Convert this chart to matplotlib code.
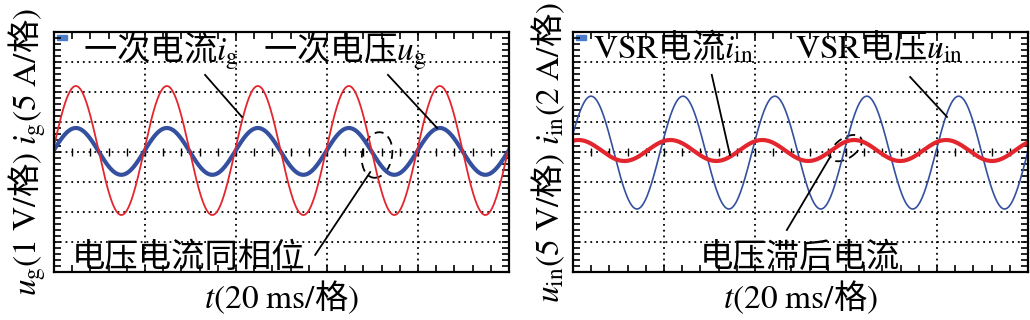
import matplotlib
matplotlib.use("Agg")
import matplotlib.pyplot as plt
import numpy as np
from matplotlib.patches import Ellipse, Rectangle
from matplotlib.transforms import ScaledTranslation

plt.rcParams['font.family'] = ['Noto Sans CJK SC', 'DejaVu Sans']
plt.rcParams['mathtext.fontset'] = 'stix'

# waveform parameters (time in ms, amplitude in divisions)
t_span = 100.0
left_red_amp, left_red_peak, left_red_offset = 2.15, 4.8, 0.05       # i_g
left_blue_amp, left_blue_peak, left_blue_offset = 0.78, 4.8, 0.02    # u_g
left_period = 20.0
right_blue_amp, right_blue_peak, right_blue_offset = 1.88, 3.96, -0.02  # u_in
right_red_amp, right_red_peak, right_red_offset = 0.35, 1.2, 0.05       # i_in
right_period = 20.2

left_ylabel = (r'$u_{\mathrm{g}}\mathrm{(1\ V/}$格$\mathrm{)}\ i_{\mathrm{g}}'
               r'\mathrm{(5\ A/}$格$\mathrm{)}$')
right_ylabel = (r'$u_{\mathrm{in}}\mathrm{(5\ V/}$格$\mathrm{)}\ i_{\mathrm{in}}'
                r'\mathrm{(2\ A/}$格$\mathrm{)}$')
xlabel = r'$t\mathrm{(20\ ms/}$格$\mathrm{)}$'

RED = '#e3262e'
BLUE = '#34509f'


def wave(t, amp, peak, period, offset):
    return offset + amp * np.cos(2 * np.pi * (t - peak) / period)


def scope_axes(fig, rect):
    ax = fig.add_axes(rect)
    ax.set_xlim(0, t_span)
    ax.set_ylim(-4, 4)
    ax.set_xticks(np.arange(0, t_span + 1, 20))
    ax.set_xticks(np.arange(0, t_span + 1, 4), minor=True)
    ax.set_yticks(np.arange(-4, 5, 1))
    ax.set_yticks(np.arange(-4, 4.01, 0.2), minor=True)
    ax.tick_params(which='both', direction='in', top=True, right=True,
                   labelbottom=False, labelleft=False, width=1.2, length=5)
    ax.grid(True, which='major', color='black', linestyle=(0, (1, 2.2)), linewidth=1.3)
    for s in ax.spines.values():
        s.set_linewidth(1.6)
    # center line cross ticks
    tc = np.arange(4, t_span, 4)
    ax.plot(tc, np.zeros_like(tc), '|', color='black', ms=6, mew=1.0)
    ax.add_patch(Rectangle((0.007, 0.967), 0.021, 0.02, transform=ax.transAxes,
                           color='#4a7cc9', clip_on=False))
    return ax


def ellipse(ax, fig, x, y, w, h, angle):
    tr = fig.dpi_scale_trans + ScaledTranslation(x, y, ax.transData)
    ax.add_patch(Ellipse((0, 0), w, h, angle=angle, transform=tr, fill=False,
                         edgecolor='black', linestyle=(0, (5, 3)), linewidth=1.3))


fig = plt.figure(figsize=(10.3, 3.2), dpi=100)
t = np.linspace(0, t_span, 2000)

# left panel
ax1 = scope_axes(fig, [54 / 1030, 48 / 320, 455 / 1030, 240 / 320])
ax1.plot(t, wave(t, left_blue_amp, left_blue_peak, left_period, left_blue_offset),
         color=BLUE, lw=3.0)
ax1.plot(t, wave(t, left_red_amp, left_red_peak, left_period, left_red_offset),
         color=RED, lw=1.3)
ax1.text(6.4, 3.05, r'一次电流$i_{\mathrm{g}}$', fontsize=24, va='baseline')
ax1.text(45.9, 3.05, r'一次电压$u_{\mathrm{g}}$', fontsize=24, va='baseline')
ax1.text(4.0, -3.82, '电压电流同相位', fontsize=24, va='baseline')
ax1.plot([33.2, 41.3], [2.57, 1.17], color='black', lw=1.3)
ax1.plot([73.4, 84.2], [2.57, 0.8], color='black', lw=1.3)
ax1.plot([69.5, 57.4], [-0.67, -3.43], color='black', lw=1.3)
ellipse(ax1, fig, 71.0, -0.1, 0.30, 0.46, -10)
ax1.set_xlabel(xlabel, fontsize=24, labelpad=5)
ax1.set_ylabel(left_ylabel, fontsize=24, labelpad=4)

# right panel
ax2 = scope_axes(fig, [573 / 1030, 48 / 320, 455 / 1030, 240 / 320])
ax2.plot(t, wave(t, right_blue_amp, right_blue_peak, right_period, right_blue_offset),
         color=BLUE, lw=1.2)
ax2.plot(t, wave(t, right_red_amp, right_red_peak, right_period, right_red_offset),
         color=RED, lw=3.0)
ax2.text(4.4, 3.13, r'$\mathrm{VSR}$电流$i_{\mathrm{in}}$', fontsize=24, va='baseline')
ax2.text(48.8, 3.13, r'$\mathrm{VSR}$电压$u_{\mathrm{in}}$', fontsize=24, va='baseline')
ax2.text(27.9, -3.82, '电压滞后电流', fontsize=24, va='baseline')
ax2.plot([30.5, 34.5], [2.57, -0.1], color='black', lw=1.3)
ax2.plot([74.1, 82.2], [2.5, 1.17], color='black', lw=1.3)
ax2.plot([56.5, 47.0], [-0.17, -2.6], color='black', lw=1.3)
ellipse(ax2, fig, 60.0, 0.13, 0.36, 0.20, 35)
ax2.set_xlabel(xlabel, fontsize=24, labelpad=5)
ax2.set_ylabel(right_ylabel, fontsize=24, labelpad=4)

fig.savefig('out.png', dpi=100, facecolor='white')
